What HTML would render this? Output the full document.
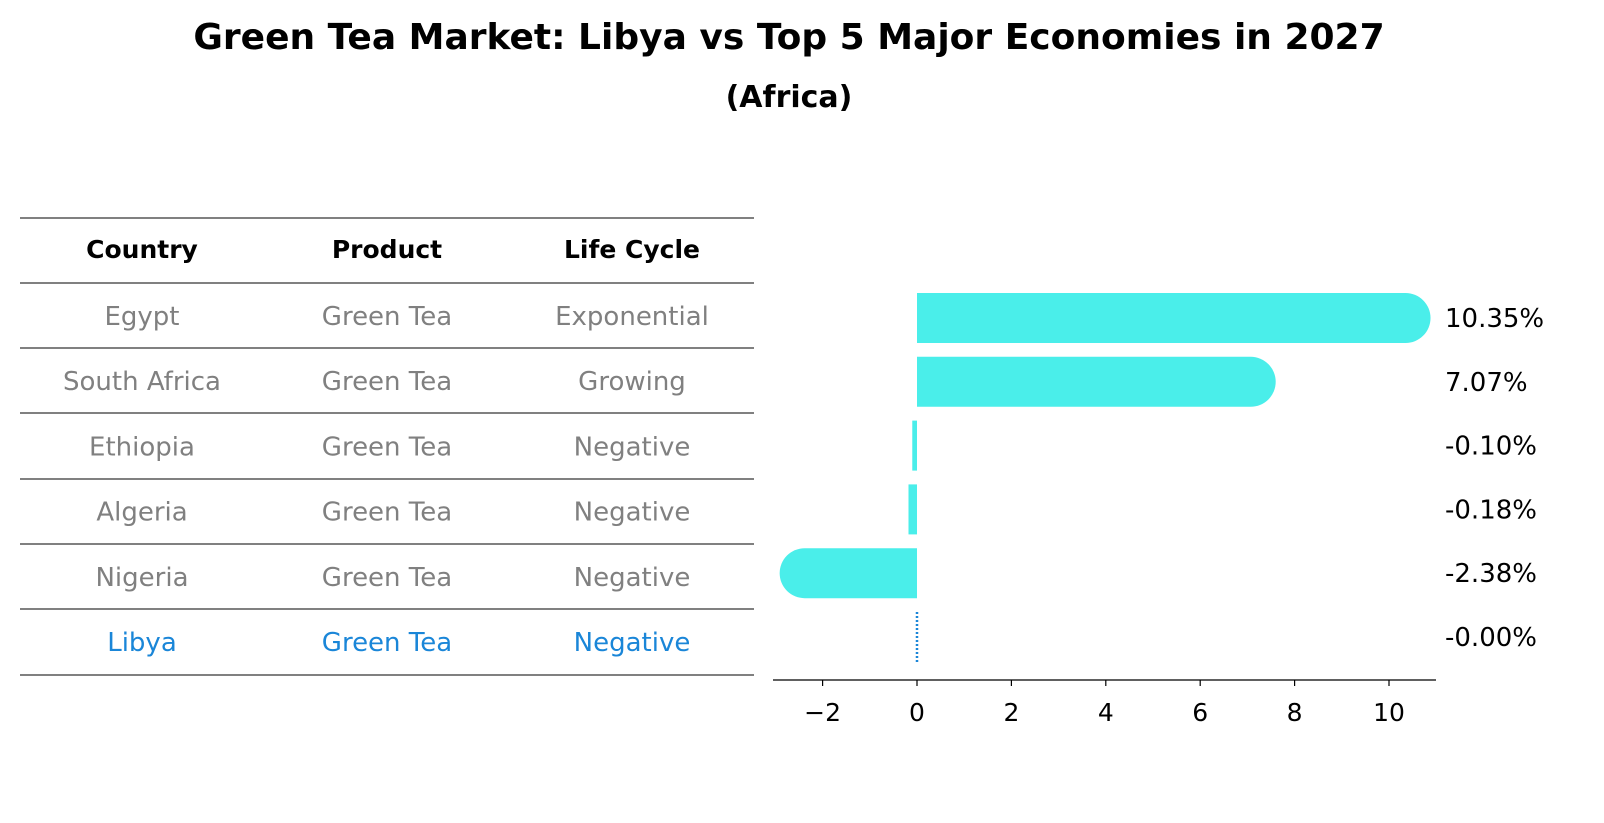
<!DOCTYPE html>
<html><head><meta charset="utf-8"><style>
body{margin:0;background:#fff;font-family:"DejaVu Sans","Liberation Sans",sans-serif;}
#root{position:relative;width:1604px;height:823px;overflow:hidden;}
</style></head><body>
<div id="root">
<svg id="svg" width="1604" height="823" style="position:absolute;left:0;top:0">
<text x="789" y="49" text-anchor="middle" font-size="36" font-weight="bold" font-family="DejaVu Sans, sans-serif">Green Tea Market: Libya vs Top 5 Major Economies in 2027</text>
<text x="789" y="107" text-anchor="middle" font-size="30" font-weight="bold" font-family="DejaVu Sans, sans-serif">(Africa)</text>
</svg>
</div>
<script>
const countries=["Egypt","South Africa","Ethiopia","Algeria","Nigeria","Libya"];
const products=["Green Tea","Green Tea","Green Tea","Green Tea","Green Tea","Green Tea"];
const lifeCycles=["Exponential","Growing","Negative","Negative","Negative","Negative"];
const values=[10.35,7.07,-0.10,-0.18,-2.38,-0.00];
const valueLabels=["10.35%","7.07%","-0.10%","-0.18%","-2.38%","-0.00%"];
const xTicks=[-2,0,2,4,6,8,10];
const NS="http://www.w3.org/2000/svg";
const svg=document.getElementById('svg');
function mk(tag,attrs,name){const e=document.createElementNS(NS,tag);for(const k in attrs)e.setAttribute(k,attrs[k]);


svg.appendChild(e);return e;}
const xScale=v=>917+v*47.2;
const rowMid=i=>316+i*65.2;
const lineYs=[218,283,348,413,479,544,609,675];
lineYs.forEach((y,i)=>mk('line',{x1:20,x2:754,y1:y,y2:y,stroke:'#000','stroke-width':1},'table-rule-'+i));
const colX=[142,387,632];
["Country","Product","Life Cycle"].forEach((h,j)=>{const t=mk('text',{x:colX[j],y:258,'text-anchor':'middle','font-size':25,'font-weight':'bold','font-family':'DejaVu Sans, sans-serif'},'table-header-'+j);t.textContent=h;});
countries.forEach((c,i)=>{
 const col=i===countries.length-1?'#1a86d8':'#808080';
 [c,products[i],lifeCycles[i]].forEach((v,j)=>{const t=mk('text',{x:colX[j],y:rowMid(i)+9,'text-anchor':'middle','font-size':26,fill:col,'font-family':'DejaVu Sans, sans-serif'},'table-cell-'+i+'-'+j);t.textContent=v;});
});
const h=50,r=25;
values.forEach((v,i)=>{
 const cy=318+i*63.8;
 const nm='bar-'+countries[i].toLowerCase().replace(' ','-');
 if(i===values.length-1){
  mk('line',{x1:917,x2:917,y1:cy-25,y2:cy+25,stroke:'#1a86d8','stroke-width':2.5,'stroke-dasharray':'2,2'},nm);
 } else {
  const x0=xScale(0),x1=xScale(v);
  const w=Math.abs(x1-x0);
  if(w>h){
   const left=Math.min(x0,x1),right=Math.max(x0,x1);
   let d;
   if(v>0) d=`M${left},${cy-r} H${right} A${r},${r} 0 0 1 ${right},${cy+r} H${left} Z`;
   else d=`M${right},${cy-r} H${left} A${r},${r} 0 0 0 ${left},${cy+r} H${right} Z`;
   mk('path',{d:d,fill:'#4aeeea'},nm);
  } else {
   mk('rect',{x:Math.min(x0,x1),y:cy-r,width:Math.max(w,3),height:h,fill:'#4aeeea'},nm);
  }
 }
 const t=mk('text',{x:1445,y:cy+9,'font-size':26,'font-family':'DejaVu Sans, sans-serif'},'value-label-'+i);t.textContent=valueLabels[i];
});
mk('line',{x1:773,x2:1436,y1:680,y2:680,stroke:'#000','stroke-width':1.3},'x-axis-line');
xTicks.forEach(v=>{const x=xScale(v);mk('line',{x1:x,x2:x,y1:680,y2:686,stroke:'#000','stroke-width':1.2},'x-tick-'+v);
 const t=mk('text',{x:x,y:721,'text-anchor':'middle','font-size':25,'font-family':'DejaVu Sans, sans-serif'},'x-tick-label-'+v);t.textContent=v<0?'\u2212'+(-v):v;});
</script>
</body></html>
